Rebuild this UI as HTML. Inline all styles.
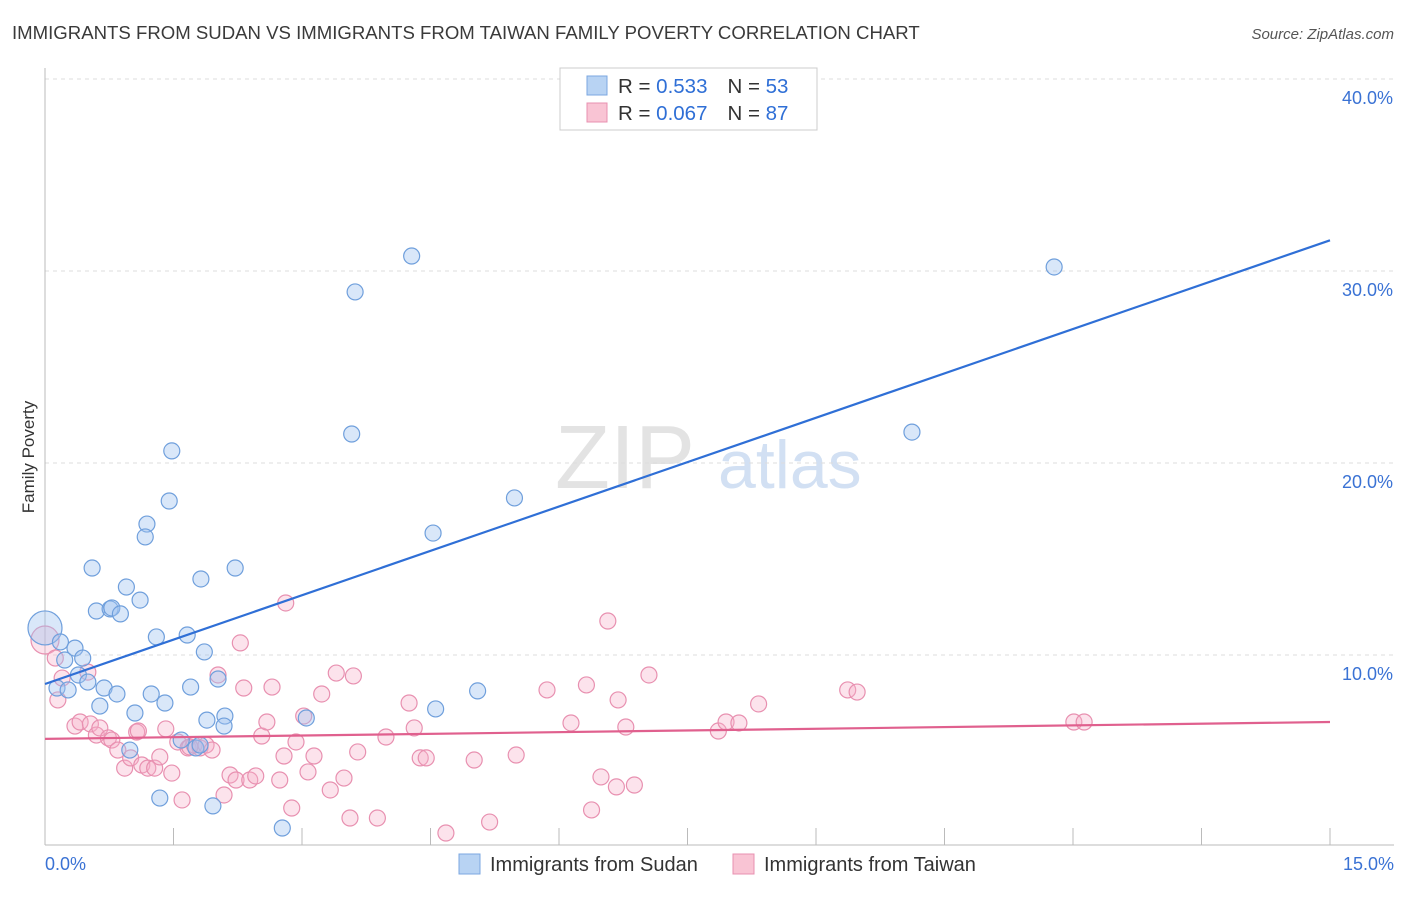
<!DOCTYPE html>
<html><head><meta charset="utf-8"><style>
body{margin:0;background:#fff;font-family:"Liberation Sans",sans-serif;}
svg text{font-family:"Liberation Sans",sans-serif;}
</style></head><body>
<svg id="chart" width="1406" height="892" xmlns="http://www.w3.org/2000/svg">
<text x="12" y="39" font-size="18.6" fill="#3a3a3a">IMMIGRANTS FROM SUDAN VS IMMIGRANTS FROM TAIWAN FAMILY POVERTY CORRELATION CHART</text>
<text x="1394" y="39" font-size="15" fill="#555" text-anchor="end" font-style="italic">Source: ZipAtlas.com</text>
<g>
<text x="555" y="488" font-size="90" fill="#d8d8d8" font-family="Liberation Serif" opacity="0.7">ZIP</text>
<text x="718" y="488" font-size="68" fill="#c0d4ee" opacity="0.7">atlas</text>
</g>
<g id="grid"></g>
<g id="axes"></g>
<g id="marks"></g>
<text transform="translate(34,457) rotate(-90)" font-size="17" fill="#333" text-anchor="middle">Family Poverty</text>
<g>
<rect x="560" y="68" width="257" height="62" fill="#fff" stroke="#ccc"/>
<rect x="587" y="76" width="20" height="19" fill="#b8d3f3" stroke="#7ba7e0"/>
<rect x="587" y="103" width="20" height="19" fill="#f9c4d4" stroke="#e890b0"/>
<text x="618" y="93" font-size="20.5" fill="#333">R = <tspan fill="#2f6fd6">0.533</tspan><tspan dx="20">N = </tspan><tspan fill="#2f6fd6">53</tspan></text>
<text x="618" y="120" font-size="20.5" fill="#333">R = <tspan fill="#2f6fd6">0.067</tspan><tspan dx="20">N = </tspan><tspan fill="#2f6fd6">87</tspan></text>
</g>
<g>
<rect x="459" y="854" width="21" height="20" fill="#b8d3f3" stroke="#7ba7e0"/>
<text x="490" y="871" font-size="20" fill="#333">Immigrants from Sudan</text>
<rect x="733" y="854" width="21" height="20" fill="#f9c4d4" stroke="#e890b0"/>
<text x="764" y="871" font-size="20" fill="#333">Immigrants from Taiwan</text>
</g>
</svg>
<script>
const xTicks=[0,1.5,3,4.5,6,7.5,9,10.5,12,13.5,15];
const yTicks=[10,20,30,40];
const yTickLabels=["10.0%","20.0%","30.0%","40.0%"];
const sudanX=[0,.18,.35,.14,.27,.23,.44,.39,.50,.55,.60,.76,.78,.88,.95,1.11,.64,.69,.84,1.05,.99,1.19,1.17,1.30,1.24,1.40,1.34,1.48,1.45,1.66,1.82,1.86,1.70,1.89,1.96,2.02,2.10,2.09,2.22,2.77,3.05,1.59,1.76,3.62,3.58,4.28,4.53,4.56,5.05,5.48,10.12,11.78,1.81];
const sudanY=[11.41,10.68,10.36,8.28,8.18,9.74,9.84,8.96,8.59,14.53,12.29,12.40,12.45,12.14,13.54,12.86,7.34,8.28,7.97,6.98,5.05,16.82,16.15,10.94,7.97,7.50,2.55,20.63,18.02,11.04,13.96,10.16,8.33,6.61,2.14,8.75,6.82,6.30,14.53,0.99,6.72,5.57,5.16,28.91,21.51,30.78,16.35,7.19,8.13,18.18,21.61,30.21,5.31];
const taiwanX=[0,.12,.15,.20,.35,.41,.53,.60,.64,.74,.78,.85,.93,1.00,1.07,1.13,1.20,1.28,1.34,1.41,1.48,1.60,1.55,1.67,1.74,1.81,1.88,1.95,2.02,2.09,2.16,2.23,2.28,2.32,2.39,2.46,2.53,2.59,2.65,2.74,2.79,2.81,2.88,2.93,3.02,3.07,3.14,3.23,3.33,3.40,3.49,3.56,3.60,3.65,3.88,3.98,4.25,4.31,4.38,4.45,4.68,5.01,5.19,5.50,5.86,6.14,6.32,6.38,6.49,6.57,6.67,6.69,6.78,6.88,7.05,7.86,7.95,8.10,8.33,9.37,9.48,12.01,12.13,.50,1.09,1.69];
const taiwanY=[10.78,9.84,7.66,8.80,6.30,6.51,6.41,5.83,6.20,5.68,5.57,5.05,4.11,4.64,5.99,4.27,4.11,4.11,4.69,6.15,3.85,2.45,5.47,5.16,5.31,5.16,5.31,5.05,8.96,2.71,3.75,3.49,10.63,8.28,3.49,3.70,5.78,6.51,8.33,3.49,4.74,12.71,2.03,5.47,6.82,3.91,4.74,7.97,2.97,9.06,3.59,1.51,8.91,4.95,1.51,5.73,7.50,6.20,4.64,4.64,0.73,4.53,1.30,4.79,8.18,6.46,8.44,1.93,3.65,11.77,3.13,7.66,6.25,3.23,8.96,6.04,6.51,6.46,7.45,8.18,8.07,6.51,6.51,9.11,6.04,5.21];
const sudanTrend=[8.49,31.6];
const taiwanTrend=[5.63,6.51];
const NS="http://www.w3.org/2000/svg";
const X=v=>45+v*(1285/15);
const Y=v=>847-v*19.2;
function mk(tag,attrs,parent){const e=document.createElementNS(NS,tag);for(const k in attrs)e.setAttribute(k,attrs[k]);document.getElementById(parent).appendChild(e);return e;}
yTicks.forEach((t,i)=>{
 const g=mk('line',{x1:45,x2:1394,y1:Y(t),y2:Y(t),stroke:'#ddd','stroke-dasharray':'4,4'},'grid');
 
 
 const l=mk('text',{x:1393,y:Y(t)+25,'font-size':18,fill:'#3a72d4','text-anchor':'end'},'axes');
 l.textContent=yTickLabels[i];
 
 
});
const ax=mk('line',{x1:45,x2:1394,y1:845,y2:845,stroke:'#bbb'},'axes');


const ay=mk('line',{x1:45,x2:45,y1:68,y2:845,stroke:'#bbb'},'axes');


xTicks.forEach(t=>{
 const e=mk('line',{x1:X(t),x2:X(t),y1:828,y2:845,stroke:'#bbb'},'axes');
 
 
});
const xl0=mk('text',{x:45,y:870,'font-size':18,fill:'#3a72d4'},'axes');xl0.textContent='0.0%';


const xl1=mk('text',{x:1394,y:870,'font-size':18,fill:'#3a72d4','text-anchor':'end'},'axes');xl1.textContent='15.0%';


taiwanX.forEach((x,i)=>{
 const c=mk('circle',{cx:X(x),cy:Y(taiwanY[i]),r:(x===0?14:8),fill:'rgba(246,176,200,0.35)',stroke:'#e890b0','stroke-width':1.2},'marks');
 
 
});
sudanX.forEach((x,i)=>{
 const c=mk('circle',{cx:X(x),cy:Y(sudanY[i]),r:(x===0?17:8),fill:'rgba(160,196,240,0.4)',stroke:'#6f9fdc','stroke-width':1.2},'marks');
 
 
});
const t1=mk('line',{x1:X(0),x2:X(15),y1:Y(sudanTrend[0]),y2:Y(sudanTrend[1]),stroke:'#2f6fd6','stroke-width':2.2},'marks');


const t2=mk('line',{x1:X(0),x2:X(15),y1:Y(taiwanTrend[0]),y2:Y(taiwanTrend[1]),stroke:'#e0608e','stroke-width':2.2},'marks');


</script>
</body></html>
